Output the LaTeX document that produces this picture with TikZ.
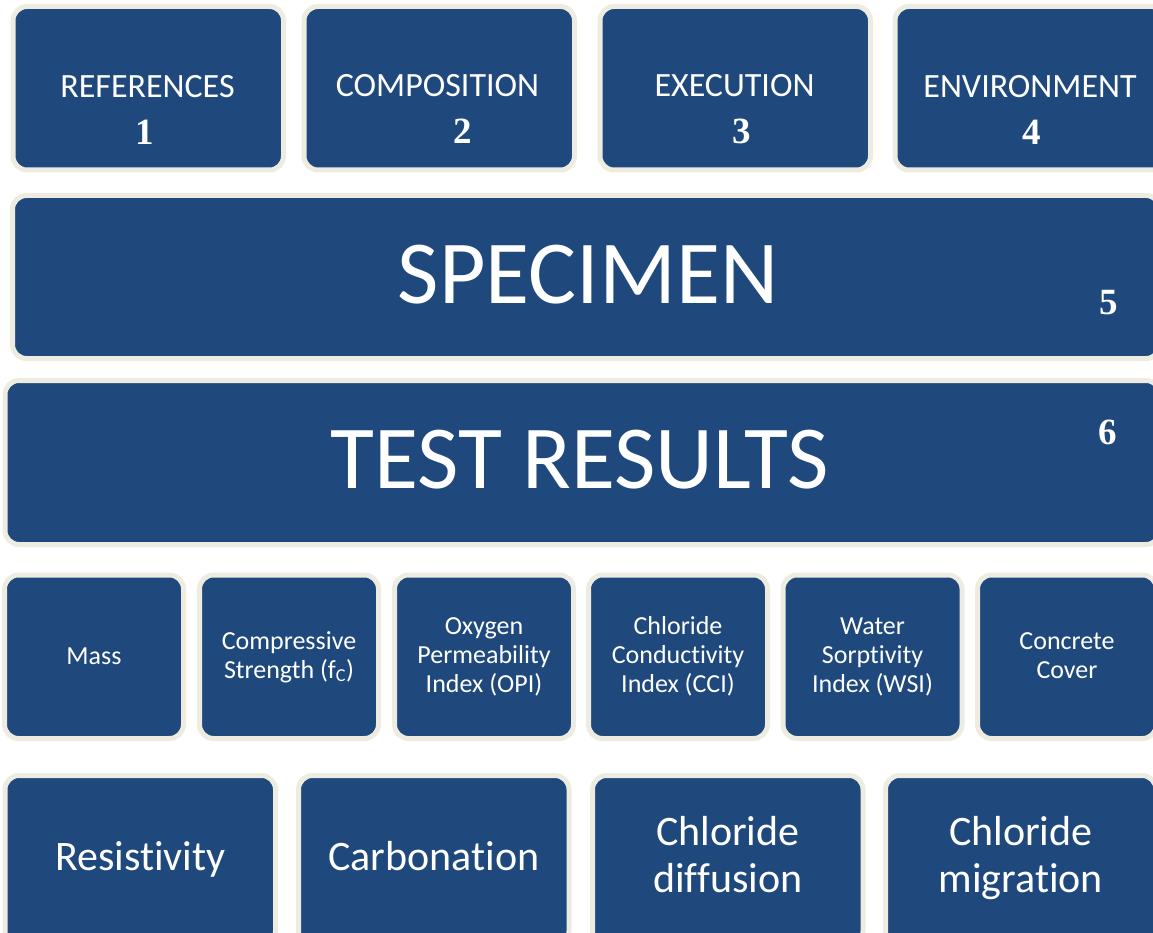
\documentclass[tikz,border=0pt]{standalone}
\usepackage{fontspec}
\setmainfont[Ligatures={NoCommon,NoContextual,NoRequired},Contextuals={NoAlternate}]{Carlito}
\newfontfamily\numfont{Liberation Serif}
\begin{document}
% centred lines stacked in a box whose baseline is the first line
\newcommand\stacked[1]{\vtop{\halign{\hfil##\hfil\cr#1\crcr}}}
% keeps "t" and "i" as separate glyphs
\newcommand\brk{\kern0pt{}}
\definecolor{boxblue}{HTML}{1F497D}
\definecolor{boxrim}{HTML}{EEECE1}
\begin{tikzpicture}[x=1pt,y=-1pt,
  panel/.style={draw=boxrim, fill=boxblue, line width=5pt, rounded corners=14pt,
    rectangle, inner sep=0pt, outer sep=0pt},
  toppanel/.style={panel, minimum width=270.5pt, minimum height=163.5pt},
  bandpanel/.style={panel, minimum height=163.5pt},
  smallpanel/.style={panel, minimum width=179pt, minimum height=163.5pt},
  bigpanel/.style={panel, minimum width=270.5pt, minimum height=169.5pt},
  txt/.style={text=white, inner sep=0pt, anchor=base},
  toptxt/.style={txt, font=\fontsize{34}{40}\selectfont},
  numtxt/.style={txt, font=\numfont\bfseries\fontsize{37}{40}\selectfont},
  hugetxt/.style={txt, font=\fontsize{90}{100}\selectfont},
  smalltxt/.style={txt, font=\fontsize{26}{29}\selectfont},
  bigtxt/.style={txt, font=\fontsize{42}{47}\selectfont}]
\useasboundingbox (0,0) rectangle (1153,933);
\clip (0,0) rectangle (1153,933);

% top row: inputs 1-4
\node[toppanel] (ref)  at (148.25,88.25) {};
\node[toppanel] (comp) at (439.25,88.25) {};
\node[toppanel] (exec) at (735.25,88.25) {};
\node[toppanel] (env)  at (1030.25,88.25) {};
\node[toptxt] (refT)  at (147.5,98) {REFERENCES};
\node[toptxt] (compT) at (437.5,97) {COMPOSITION};
\node[toptxt] (execT) at (734.5,97) {EXECUTION};
\node[toptxt] (envT)  at (1030,98) {ENVIRONMENT};
\node[numtxt] (n1) at (145,145) {1};
\node[numtxt] (n2) at (463,144) {2};
\node[numtxt] (n3) at (742,144) {3};
\node[numtxt] (n4) at (1032,145) {4};

% specimen band
\node[bandpanel, minimum width=1147.5pt, minimum height=163pt] (spec) at (586.25,277) {};
\node[hugetxt] (specT) at (588,303) {SPECIMEN};
\node[numtxt] (n5) at (1108.5,314) {5};

% test results band
\node[bandpanel, minimum width=1155pt, minimum height=164pt] (test) at (582.5,462.5) {};
\node[hugetxt] (testT) at (580,488) {TEST RESULTS};
\node[numtxt] (n6) at (1108,444) {6};

% row of measured properties
\node[smallpanel] (mass) at (94,656.75) {};
\node[smallpanel] (fc)   at (289,656.75) {};
\node[smallpanel] (opi)  at (484,656.75) {};
\node[smallpanel] (cci)  at (678,656.75) {};
\node[smallpanel] (wsi)  at (872.5,656.75) {};
\node[smallpanel] (cov)  at (1067,656.75) {};
\node[smalltxt] (massT) at (94,664) {Mass};
\node[smalltxt] (fcT)   at (289,649) {\stacked{Compressive\cr Strength (f\textsubscript{C})}};
\node[smalltxt] (opiT)  at (484,634.5) {\stacked{Oxygen\cr Permeability\cr Index (OPI)}};
\node[smalltxt] (cciT)  at (678,634.5) {\stacked{Chloride\cr Conduct\brk ivity\cr Index (CCI)}};
\node[smalltxt] (wsiT)  at (872.5,634.5) {\stacked{Water\cr Sorpt\brk ivity\cr Index (WSI)}};
\node[smalltxt] (covT)  at (1067,649) {\stacked{Concrete\cr Cover}};

% bottom row: durability tests
\node[bigpanel] (res)  at (140.25,860.25) {};
\node[bigpanel] (carb) at (433.75,860.25) {};
\node[bigpanel] (diff) at (727.75,860.25) {};
\node[bigpanel] (mig)  at (1020.75,860.25) {};
\node[bigtxt] (resT)  at (140.25,870) {Resist\brk ivity};
\node[bigtxt] (carbT) at (433.75,870) {Carbonat\brk ion};
\node[bigtxt] (diffT) at (727.75,845) {\stacked{Chloride\cr diffusion}};
\node[bigtxt] (migT)  at (1020.75,845) {\stacked{Chloride\cr migrat\brk ion}};
\end{tikzpicture}
\end{document}
